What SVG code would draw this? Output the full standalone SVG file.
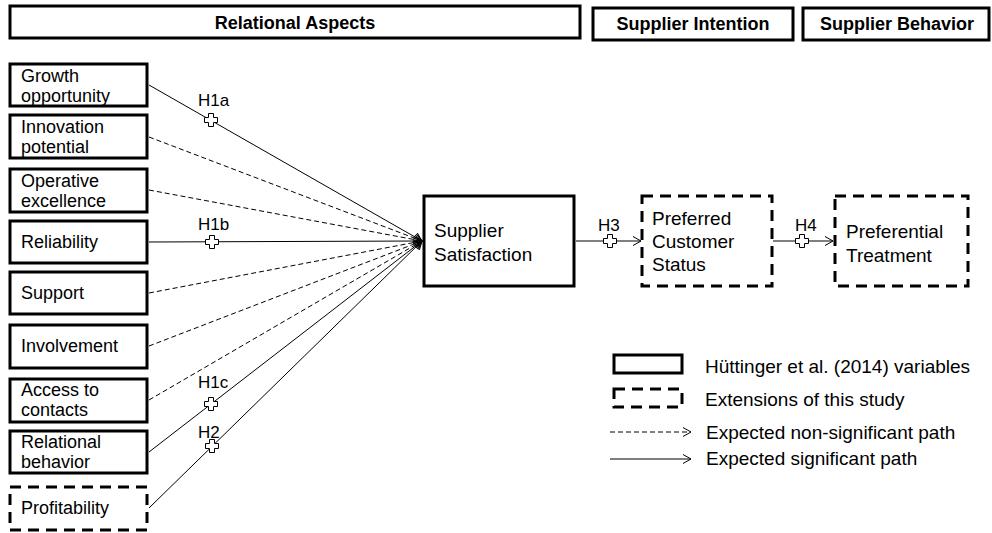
<svg xmlns="http://www.w3.org/2000/svg" xmlns:xlink="http://www.w3.org/1999/xlink" width="992" height="533" viewBox="0 0 992 533">
<style>
text{font-family:"Liberation Sans",Arial,sans-serif;fill:#000}
.hdr{font-size:18px;font-weight:bold;text-anchor:middle}
.lbl{font-size:18px}
.big{font-size:19px}
.h{font-size:17px}
.box{fill:#fff;stroke:#000;stroke-width:3}
.dbox{fill:#fff;stroke:#000;stroke-width:3;stroke-dasharray:11 7}
.sol{fill:none;stroke:#000;stroke-width:1}
.dsh{fill:none;stroke:#000;stroke-width:1;stroke-dasharray:5 3}
.plus{fill:#fff;stroke:#000;stroke-width:1}
</style>
<defs>
<marker id="arr" markerUnits="userSpaceOnUse" markerWidth="12" markerHeight="12" refX="8" refY="4.5" orient="auto" overflow="visible">
<path d="M0,0 L8,4.5 L0,9" fill="none" stroke="#000" stroke-width="1"/>
</marker>
<path id="plus" d="M-2.5,-6.5 H2.5 V-2.5 H6.5 V2.5 H2.5 V6.5 H-2.5 V2.5 H-6.5 V-2.5 H-2.5 Z"/>
</defs>
<rect width="992" height="533" fill="#fff"/>

<g id="headers">
<g id="hdr-relational"><rect class="box" x="10" y="6" width="570" height="32"/><text class="hdr" x="295" y="29">Relational Aspects</text></g>
<g id="hdr-intention"><rect class="box" x="593" y="8" width="200" height="32"/><text class="hdr" x="693" y="30">Supplier Intention</text></g>
<g id="hdr-behavior"><rect class="box" x="803" y="8" width="186" height="32"/><text class="hdr" x="897" y="30">Supplier Behavior</text></g>
</g>

<g id="connectors">
<line class="sol" x1="149" y1="85" x2="422" y2="241" marker-end="url(#arr)"/>
<line class="dsh" x1="149" y1="137" x2="422" y2="241" marker-end="url(#arr)"/>
<line class="dsh" x1="149" y1="190" x2="422" y2="241" marker-end="url(#arr)"/>
<line class="sol" x1="149" y1="242" x2="422" y2="241" marker-end="url(#arr)"/>
<line class="dsh" x1="149" y1="293" x2="422" y2="241" marker-end="url(#arr)"/>
<line class="dsh" x1="149" y1="346" x2="422" y2="241" marker-end="url(#arr)"/>
<line class="dsh" x1="149" y1="400" x2="422" y2="241" marker-end="url(#arr)"/>
<line class="sol" x1="149" y1="452" x2="422" y2="241" marker-end="url(#arr)"/>
<line class="sol" x1="149" y1="508" x2="422" y2="241" marker-end="url(#arr)"/>
<line class="sol" x1="576" y1="241" x2="641" y2="241" marker-end="url(#arr)"/>
<line class="sol" x1="773" y1="241" x2="833" y2="241" marker-end="url(#arr)"/>
<use class="plus" href="#plus" x="211" y="120"/>
<use class="plus" href="#plus" x="212" y="242"/>
<use class="plus" href="#plus" x="211" y="404"/>
<use class="plus" href="#plus" x="212" y="446"/>
<use class="plus" href="#plus" x="610" y="241"/>
<use class="plus" href="#plus" x="802" y="241"/>
<text class="h" x="198" y="106">H1a</text>
<text class="h" x="198" y="230">H1b</text>
<text class="h" x="198" y="388">H1c</text>
<text class="h" x="198" y="438">H2</text>
<text class="h" x="598" y="231">H3</text>
<text class="h" x="795" y="231">H4</text>
</g>

<g id="growth"><rect class="box" x="10" y="64" width="137" height="42"/><text class="lbl" x="21" y="82">Growth</text><text class="lbl" x="21" y="102">opportunity</text></g>
<g id="innovation"><rect class="box" x="10" y="115" width="137" height="43"/><text class="lbl" x="21" y="133">Innovation</text><text class="lbl" x="21" y="153">potential</text></g>
<g id="operative"><rect class="box" x="10" y="169" width="137" height="43"/><text class="lbl" x="21" y="187">Operative</text><text class="lbl" x="21" y="207">excellence</text></g>
<g id="reliability"><rect class="box" x="10" y="221" width="137" height="42"/><text class="lbl" x="21" y="248">Reliability</text></g>
<g id="support"><rect class="box" x="10" y="272" width="137" height="42"/><text class="lbl" x="21" y="299">Support</text></g>
<g id="involvement"><rect class="box" x="10" y="325" width="137" height="43"/><text class="lbl" x="21" y="352">Involvement</text></g>
<g id="access"><rect class="box" x="10" y="379" width="137" height="43"/><text class="lbl" x="21" y="396">Access to</text><text class="lbl" x="21" y="416">contacts</text></g>
<g id="relational"><rect class="box" x="10" y="431" width="137" height="42"/><text class="lbl" x="21" y="448">Relational</text><text class="lbl" x="21" y="468">behavior</text></g>
<g id="profitability"><rect class="dbox" x="10" y="487" width="137" height="43"/><text class="lbl" x="21" y="514">Profitability</text></g>

<g id="satisfaction"><rect class="box" x="424" y="196" width="150" height="90"/><text class="big" x="434" y="237">Supplier</text><text class="big" x="434" y="261">Satisfaction</text></g>
<g id="preferred"><rect class="dbox" x="642" y="196" width="130" height="90"/><text class="big" x="652" y="225">Preferred</text><text class="big" x="652" y="248">Customer</text><text class="big" x="652" y="271">Status</text></g>
<g id="treatment"><rect class="dbox" x="835" y="196" width="133" height="90"/><text class="big" x="846" y="238">Preferential</text><text class="big" x="846" y="262">Treatment</text></g>

<g id="legend">
<rect class="box" x="614" y="355" width="68" height="18"/>
<text class="big" x="705" y="373">Hüttinger et al. (2014) variables</text>
<rect class="dbox" x="614" y="389" width="68" height="18"/>
<text class="big" x="705" y="406">Extensions of this study</text>
<line class="dsh" x1="610" y1="432" x2="691" y2="432" marker-end="url(#arr)"/>
<text class="big" x="706" y="439">Expected non-significant path</text>
<line class="sol" x1="610" y1="459" x2="691" y2="459" marker-end="url(#arr)"/>
<text class="big" x="706" y="465">Expected significant path</text>
</g>
</svg>
